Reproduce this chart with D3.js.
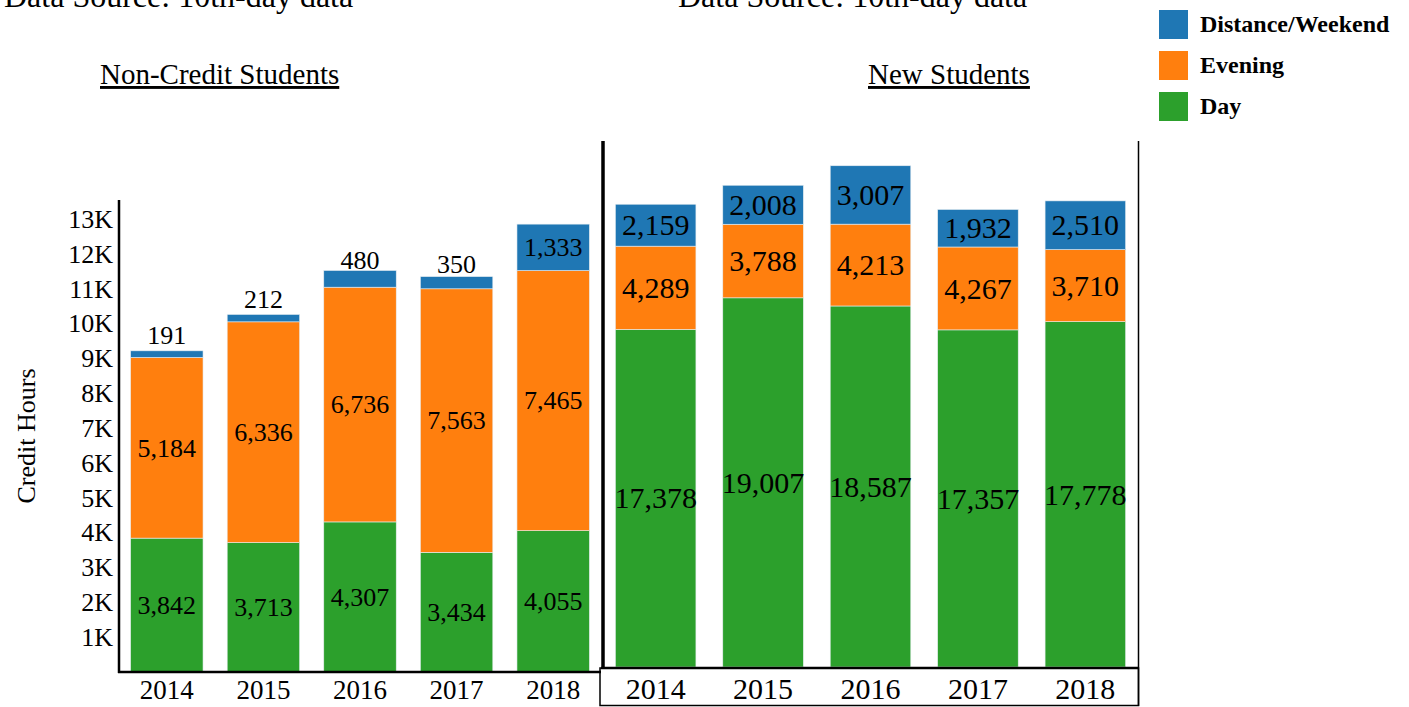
<!DOCTYPE html>
<html lang="en">
<head>
	<meta charset="utf-8">
	<title>Credit hours</title>
	<style>
		body {
			margin: 0;
			background: #fff;
			font-family: "Liberation Serif", "Times New Roman", serif;
		}
		svg text {
			fill: #000;
		}
	</style>
</head>
<body>
	<svg></svg>
	<script src="https://d3js.org/d3.v7.min.js"></script>
	<script>
		(function() {

			var width = 1409,
				height = 707;

			// data
			var years = ["2014", "2015", "2016", "2017", "2018"];
			var series = ["Day", "Evening", "Distance/Weekend"];
			var colors = ["#2ca02c", "#ff7f0e", "#1f77b4"];

			var nonCreditDay = [3842, 3713, 4307, 3434, 4055];
			var nonCreditEvening = [5184, 6336, 6736, 7563, 7465];
			var nonCreditDistance = [191, 212, 480, 350, 1333];

			var newDay = [17378, 19007, 18587, 17357, 17778];
			var newEvening = [4289, 3788, 4213, 4267, 3710];
			var newDistance = [2159, 2008, 3007, 1932, 2510];

			var leftTicks = [1000, 2000, 3000, 4000, 5000, 6000, 7000, 8000, 9000, 10000, 11000, 12000, 13000];

			var svg = d3.select("svg")
				.attr("width", width)
				.attr("height", height);

			var fmt = d3.format(",");

			function rows(day, evening, distance) {
				return years.map(function(y, i) {
					return {
						year: y,
						"Day": day[i],
						"Evening": evening[i],
						"Distance/Weekend": distance[i]
					};
				});
			}

			var stack = d3.stack().keys(series);

			function drawBars(g, data, x, y, fontSize, smallRule) {
				var layers = stack(data);
				layers.forEach(function(layer, li) {
					var lg = g.append("g");
					lg.selectAll("rect")
						.data(layer)
						.enter().append("rect")
						.attr("x", function(d) { return x(d.data.year); })
						.attr("y", function(d) { return y(d[1]); })
						.attr("width", x.bandwidth())
						.attr("height", function(d) { return y(d[0]) - y(d[1]); })
						.attr("fill", colors[li])
						.attr("stroke", "#e8eef2")
						.attr("stroke-width", 0.6);

					lg.selectAll("text")
						.data(layer)
						.enter().append("text")
						.attr("x", function(d) { return x(d.data.year) + x.bandwidth() / 2; })
						.attr("y", function(d) {
							var c = (y(d[0]) + y(d[1])) / 2;
							var h = y(d[0]) - y(d[1]);
							if (smallRule && h < 25) return c - 10;
							return c + fontSize * 0.34;
						})
						.attr("text-anchor", "middle")
						.style("font-size", fontSize + "px")
						.text(function(d) { return fmt(d[1] - d[0]); });
				});
			}

			// ---- left chart: non-credit students
			var xL = d3.scaleBand()
				.domain(years)
				.range([119, 601])
				.paddingInner(0.25)
				.paddingOuter(0.12);

			var yL = d3.scaleLinear()
				.domain([0, 13000])
				.range([672, 219]);

			var left = svg.append("g");
			drawBars(left, rows(nonCreditDay, nonCreditEvening, nonCreditDistance), xL, yL, 26, true);

			var yAxisL = left.append("g")
				.attr("transform", "translate(119,0)")
				.call(d3.axisLeft(yL)
					.tickValues(leftTicks)
					.tickSize(0)
					.tickPadding(6)
					.tickFormat(function(d) { return (d / 1000) + "K"; }));
			yAxisL.select(".domain").remove();
			yAxisL.selectAll("text")
				.style("font-family", "Liberation Serif")
				.style("font-size", "26px")
				.attr("fill", "#000");

			left.append("line")
				.attr("x1", 119).attr("x2", 119)
				.attr("y1", 200).attr("y2", 673)
				.attr("stroke", "#000").attr("stroke-width", 2.5);
			left.append("line")
				.attr("x1", 118).attr("x2", 601)
				.attr("y1", 672).attr("y2", 672)
				.attr("stroke", "#000").attr("stroke-width", 2.5);

			left.selectAll(".xl")
				.data(years)
				.enter().append("text")
				.attr("class", "xl")
				.attr("x", function(d) { return xL(d) + xL.bandwidth() / 2; })
				.attr("y", 699)
				.attr("text-anchor", "middle")
				.style("font-size", "27px")
				.text(function(d) { return d; });

			svg.append("text")
				.attr("transform", "translate(35,436) rotate(-90)")
				.attr("text-anchor", "middle")
				.style("font-size", "26px")
				.text("Credit Hours");

			// ---- right chart: new students
			var xR = d3.scaleBand()
				.domain(years)
				.range([603, 1138])
				.paddingInner(0.25)
				.paddingOuter(0.115);

			var yR = d3.scaleLinear()
				.domain([0, 26000])
				.range([667, 162]);

			var right = svg.append("g");
			drawBars(right, rows(newDay, newEvening, newDistance), xR, yR, 30, false);

			right.append("line")
				.attr("x1", 603).attr("x2", 603)
				.attr("y1", 141).attr("y2", 668)
				.attr("stroke", "#000").attr("stroke-width", 3.5);
			right.append("line")
				.attr("x1", 1138.5).attr("x2", 1138.5)
				.attr("y1", 141).attr("y2", 706)
				.attr("stroke", "#000").attr("stroke-width", 1.5);
			right.append("line")
				.attr("x1", 601).attr("x2", 1139)
				.attr("y1", 668).attr("y2", 668)
				.attr("stroke", "#000").attr("stroke-width", 2.5);
			right.append("rect")
				.attr("x", 600).attr("y", 668)
				.attr("width", 538.5).attr("height", 37.5)
				.attr("fill", "none")
				.attr("stroke", "#000").attr("stroke-width", 1.5);

			right.selectAll(".xr")
				.data(years)
				.enter().append("text")
				.attr("class", "xr")
				.attr("x", function(d) { return xR(d) + xR.bandwidth() / 2; })
				.attr("y", 699)
				.attr("text-anchor", "middle")
				.style("font-size", "30px")
				.text(function(d) { return d; });

			// ---- headings
			svg.append("text")
				.attr("x", 4).attr("y", 7)
				.style("font-size", "32px")
				.text("Data Source: 10th-day data");
			svg.append("text")
				.attr("x", 678).attr("y", 7)
				.style("font-size", "32px")
				.text("Data Source: 10th-day data");

			svg.append("text")
				.attr("x", 100).attr("y", 84)
				.style("font-size", "29px")
				.style("text-decoration", "underline")
				.text("Non-Credit Students");
			svg.append("text")
				.attr("x", 868).attr("y", 84)
				.style("font-size", "29px")
				.style("text-decoration", "underline")
				.text("New Students");

			// ---- legend
			var legendItems = ["Distance/Weekend", "Evening", "Day"];
			var legend = svg.append("g")
				.selectAll("g")
				.data(legendItems)
				.enter().append("g")
				.attr("transform", function(d, i) { return "translate(1159," + (10 + i * 41) + ")"; });

			legend.append("rect")
				.attr("width", 29)
				.attr("height", 29)
				.attr("fill", function(d) { return colors[series.indexOf(d)]; });

			legend.append("text")
				.attr("x", 41)
				.attr("y", 22)
				.style("font-size", "24px")
				.style("font-weight", "bold")
				.text(function(d) { return d; });

		})();
	</script>
</body>
</html>
